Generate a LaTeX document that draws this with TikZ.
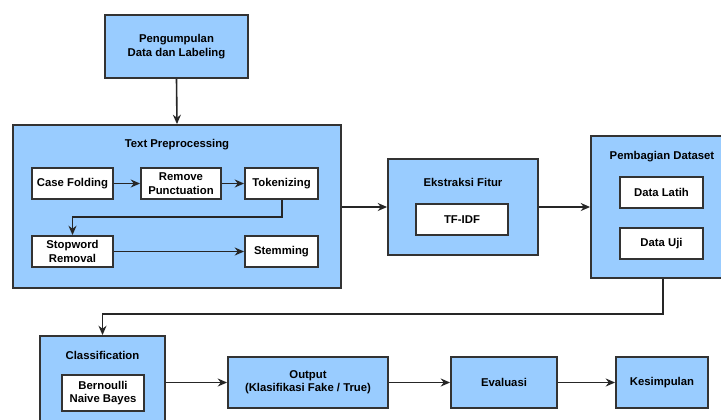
\documentclass[tikz,border=0pt]{standalone}
\usepackage{fontspec}
\setmainfont{Liberation Sans}
\usetikzlibrary{arrows.meta}
\definecolor{boxblue}{HTML}{99CCFF}
\definecolor{edgegray}{HTML}{333333}
\tikzset{
  basebox/.style 2 args={draw=edgegray, line width=1.4pt, inner sep=0pt, align=center,
    rectangle, minimum width=#1*0.75pt, minimum height=#2*0.75pt,
    font=\bfseries\fontsize{8.5}{10}\selectfont, text=black},
  bluebox/.style 2 args={basebox={#1}{#2}, fill=boxblue},
  whitebox/.style 2 args={basebox={#1}{#2}, fill=white},
  titletext/.style={font=\bfseries\fontsize{8.5}{10}\selectfont, inner sep=0pt, text=black},
  conn/.style={draw=black!85, line width=1.2pt, -{Stealth[length=7pt,width=6pt]}},
}
\begin{document}
\begin{tikzpicture}[x=0.75pt,y=-0.75pt]
\useasboundingbox (0,0) rectangle (721,419);
\fill[white] (0,0) rectangle (721,419);

% top box
\node[bluebox={143}{63}] (pd) at (176.5,46.5) {Pengumpulan\\Data dan Labeling};

% text preprocessing group
\node[bluebox={328}{163}] (tp) at (177,206.5) {};
\node[titletext] (tpt) at (177,145) {Text Preprocessing};
\node[whitebox={81}{31}] (cf) at (72.5,183.5) {Case Folding};
\node[whitebox={80}{31}] (rp) at (181,183.5) {Remove\\Punctuation};
\node[whitebox={73}{31}] (tok) at (281.5,183.5) {Tokenizing};
\node[whitebox={81}{31}] (sw) at (72.5,251.5) {Stopword\\Removal};
\node[whitebox={73}{31}] (stem) at (281.5,251.5) {Stemming};

% ekstraksi fitur
\node[bluebox={150}{96}] (ef) at (463,207) {};
\node[titletext] (eft) at (463,182) {Ekstraksi Fitur};
\node[whitebox={92}{31}] (tfidf) at (462,219.5) {TF-IDF};

% pembagian dataset
\node[bluebox={143}{142}] (pbd) at (662.5,207) {};
\node[titletext] (pbdt) at (662,157) {Pembagian Dataset};
\node[whitebox={83}{31}] (dl) at (661.5,192.5) {Data Latih};
\node[whitebox={83}{31}] (du) at (661.5,243.5) {Data Uji};

% classification
\node[bluebox={125}{96}] (cls) at (102.5,384) {};
\node[titletext] (clst) at (102.5,355) {Classification};
\node[whitebox={82}{36}] (bnb) at (103,393) {Bernoulli\\Naive Bayes};

% bottom row
\node[bluebox={160}{51}] (out) at (308,382.5) {Output\\(Klasifikasi Fake / True)};
\node[bluebox={106}{51}] (ev) at (504,382.5) {Evaluasi};
\node[bluebox={92}{51}] (kes) at (662,382.5) {Kesimpulan};

% connectors
\coordinate (t1) at (282,217);
\coordinate (t2) at (72.5,217);
\coordinate (p1) at (663,314);
\coordinate (p2) at (102.5,314);

\draw[conn] (pd.south) -- (tp.north);
\draw[conn] (cf) -- (rp);
\draw[conn] (rp) -- (tok);
\draw[conn] (tok.south -| t1) -- (t1) -- (t2) -- (sw.north);
\draw[conn] (sw) -- (stem);
\draw[conn] (tp.east |- ef.west) -- (ef.west);
\draw[conn] (ef.east) -- (pbd.west |- ef.east);
\draw[conn] (pbd.south -| p1) -- (p1) -- (p2) -- (cls.north -| p2);
\draw[conn] (cls.east |- out.west) -- (out.west);
\draw[conn] (out) -- (ev);
\draw[conn] (ev) -- (kes);
\end{tikzpicture}
\end{document}
